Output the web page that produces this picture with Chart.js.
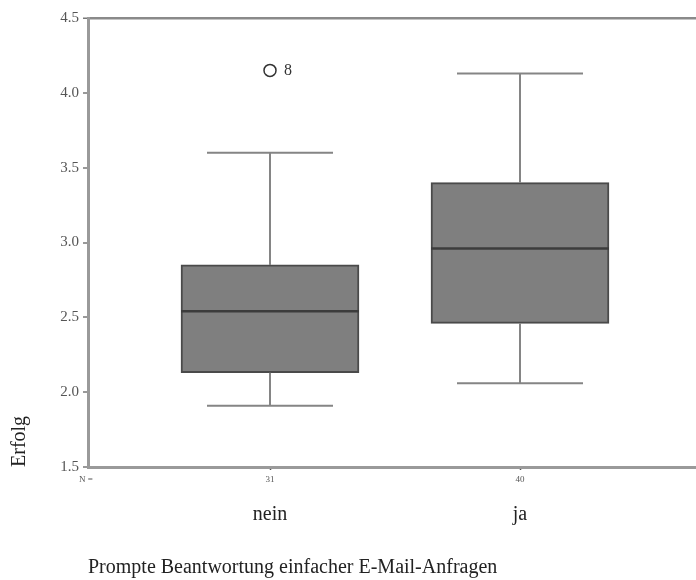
<!DOCTYPE html>
<html>
<head>
<meta charset="utf-8">
<script src="https://cdn.jsdelivr.net/npm/chart.js@4/dist/chart.umd.min.js"></script>
<style>
html,body{margin:0;padding:0;background:#fff;}
#wrap{width:696px;height:580px;}
</style>
</head>
<body>
<div id="wrap"><canvas id="c" width="696" height="580"></canvas></div>
<script>
const categories = ['nein', 'ja'];
const nCounts = ['31', '40'];
const minVals = [1.91, 2.06];
const q1Vals = [2.13, 2.46];
const medianVals = [2.54, 2.96];
const q3Vals = [2.85, 3.40];
const maxVals = [3.60, 4.13];
const outlierCats = [0];
const outlierVals = [4.15];
const outlierLabels = ['8'];
const yTickVals = [1.5, 2.0, 2.5, 3.0, 3.5, 4.0, 4.5];

const BOX_HALF = 0.356;
const CAP_HALF = 0.252;
const SERIF = "'Liberation Serif', 'DejaVu Serif', serif";

const datasets = [];
datasets.push({
  type: 'bar',
  data: categories.map((c, i) => ({ x: i, y: [q1Vals[i], q3Vals[i]] })),
  backgroundColor: '#7f7f7f',
  borderColor: '#4a4a4a',
  borderWidth: 2,
  borderSkipped: false,
  barThickness: 178,
  order: 3
});
categories.forEach((c, i) => {
  const seg = (pts, color, width, order) => datasets.push({
    type: 'scatter', showLine: true, data: pts,
    borderColor: color, borderWidth: width, pointRadius: 0, order: order
  });
  seg([{ x: i, y: q3Vals[i] }, { x: i, y: maxVals[i] }], '#858585', 2, 2);
  seg([{ x: i, y: q1Vals[i] }, { x: i, y: minVals[i] }], '#858585', 2, 2);
  seg([{ x: i - CAP_HALF, y: maxVals[i] }, { x: i + CAP_HALF, y: maxVals[i] }], '#858585', 2, 2);
  seg([{ x: i - CAP_HALF, y: minVals[i] }, { x: i + CAP_HALF, y: minVals[i] }], '#858585', 2, 2);
  seg([{ x: i - BOX_HALF, y: medianVals[i] }, { x: i + BOX_HALF, y: medianVals[i] }], '#3c3c3c', 2.5, 0);
});
datasets.push({
  type: 'scatter',
  data: outlierCats.map((c, k) => ({ x: c, y: outlierVals[k] })),
  pointStyle: 'circle', pointRadius: 6, borderColor: '#333', borderWidth: 1.5,
  backgroundColor: 'rgba(0,0,0,0)', order: 0
});

const textPlugin = {
  id: 'texts',
  afterDraw(chart) {
    const ctx = chart.ctx;
    const xs = chart.scales.x, ys = chart.scales.y;
    ctx.save();
    ctx.fillStyle = '#555';
    ctx.font = '9px ' + SERIF;
    ctx.textAlign = 'center';
    ctx.textBaseline = 'middle';
    ctx.fillText('N =', 86, 480);
    nCounts.forEach((n, i) => ctx.fillText(n, xs.getPixelForValue(i), 480));
    ctx.fillStyle = '#333';
    ctx.font = '16px ' + SERIF;
    outlierCats.forEach((c, k) => {
      ctx.fillText(outlierLabels[k], xs.getPixelForValue(c) + 18, ys.getPixelForValue(outlierVals[k]));
    });
    ctx.restore();
  }
};

new Chart(document.getElementById('c'), {
  data: { datasets: datasets },
  options: {
    responsive: false,
    animation: false,
    layout: { padding: { top: 18, right: 0, left: 0, bottom: 0 }, autoPadding: false },
    plugins: { legend: { display: false }, tooltip: { enabled: false } },
    scales: {
      x: {
        type: 'linear',
        offset: false,
        min: -0.728, max: 1.704,
        afterFit(s) { s.height = 113; s.paddingLeft = 0; s.paddingRight = 0; },
        afterBuildTicks(s) { s.ticks = categories.map((c, i) => ({ value: i })); },
        ticks: {
          callback: (v) => categories[v],
          font: { family: SERIF, size: 20 }, color: '#222', padding: 33
        },
        grid: { drawOnChartArea: false, tickLength: 3, tickColor: '#555', tickWidth: 1.5, offset: false },
        border: { color: '#9a9a9a', width: 3 },
        title: {
          display: true, text: 'Prompte Beantwortung einfacher E-Mail-Anfragen',
          align: 'start', font: { family: SERIF, size: 20 }, color: '#222',
          padding: { top: 0, bottom: 0 }
        }
      },
      y: {
        min: 1.5, max: 4.5,
        afterFit(s) { s.width = 88; s.paddingTop = 0; s.paddingBottom = 0; },
        afterBuildTicks(s) { s.ticks = yTickVals.map(v => ({ value: v })); },
        ticks: {
          callback: (v) => v.toFixed(1),
          font: { family: SERIF, size: 15 }, color: '#555', padding: 4
        },
        grid: {
          color: (ctx) => (ctx.tick && ctx.tick.value === 4.5) ? '#8a8a8a' : 'rgba(0,0,0,0)',
          lineWidth: (ctx) => (ctx.tick && ctx.tick.value === 4.5) ? 2.5 : 0,
          tickColor: '#777', tickLength: 5, tickWidth: 1.5
        },
        border: { color: '#9a9a9a', width: 3 },
        title: {
          display: true, text: 'Erfolg', align: 'start',
          font: { family: SERIF, size: 20 }, color: '#222',
          padding: { top: 8, bottom: 0 }
        }
      }
    }
  },
  plugins: [textPlugin]
});
</script>
</body>
</html>
